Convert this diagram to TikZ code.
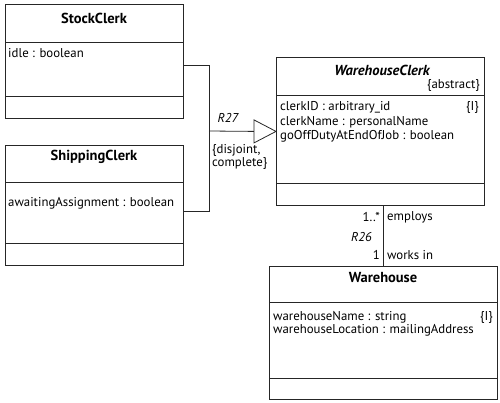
\documentclass[tikz,border=0pt]{standalone}
\usepackage{fontspec}
\setmainfont{PT Sans}
\usetikzlibrary{calc}
\tikzset{
  classbox/.style={draw=black!85, line width=0.8pt, anchor=north west, inner sep=0pt},
  sepline/.style={draw=black!85, line width=0.8pt},
  conn/.style={draw=black!85, line width=0.8pt},
  ttl/.style={font=\fontsize{14.5}{16}\selectfont\bfseries, inner sep=0pt},
  txt/.style={font=\fontsize{12.8}{14}\selectfont, inner sep=0pt},
}
\begin{document}
\begin{tikzpicture}[x=1pt,y=-1pt]
\useasboundingbox (0,0) rectangle (500,402);
% StockClerk
\node[classbox, minimum width=178pt, minimum height=114pt] (sc) at (5,4) {};
\draw[sepline] (5,42) -- (183,42);
\draw[sepline] (5,96) -- (183,96);
\node[ttl] (sct) at (94,18) {StockClerk};
\node[txt, anchor=west] (sca) at (8,53) {idle : boolean};
% ShippingClerk
\node[classbox, minimum width=178pt, minimum height=120pt] (shc) at (5,145) {};
\draw[sepline] (5,182) -- (183,182);
\draw[sepline] (5,243) -- (183,243);
\node[ttl] (shct) at (94,157) {ShippingClerk};
\node[txt, anchor=west] (shca) at (8,203) {awaitingAssignment : boolean};
% WarehouseClerk
\node[classbox, minimum width=208pt, minimum height=148pt] (wc) at (276,57) {};
\draw[sepline] (276,95) -- (484,95);
\draw[sepline] (276,183) -- (484,183);
\node[ttl, font=\fontsize{14.5}{16}\selectfont\bfseries\itshape] (wct) at (382,70) {WarehouseClerk};
\node[txt, anchor=east] (wcab) at (480,85) {\{abstract\}};
\node[txt, anchor=west] (wca1) at (280,107) {clerkID : arbitrary\_id};
\node[txt, anchor=east] (wci) at (479,107) {\{I\}};
\node[txt, anchor=west] (wca2) at (280,122) {clerkName : personalName};
\node[txt, anchor=west] (wca3) at (280,136) {goOffDutyAtEndOfJob : boolean};
% Warehouse
\node[classbox, minimum width=228pt, minimum height=133pt] (wh) at (269,266) {};
\draw[sepline] (269,302) -- (497,302);
\draw[sepline] (269,378) -- (497,378);
\node[ttl] (wht) at (383,278) {Warehouse};
\node[txt, anchor=west] (wha1) at (273,317) {warehouseName : string};
\node[txt, anchor=east] (whi) at (493,317) {\{I\}};
\node[txt, anchor=west] (wha2) at (273,330) {warehouseLocation : mailingAddress};
% R27 generalization
\coordinate (scA) at ($(sc.north east)+(0,61)$);
\coordinate (shA) at ($(shc.north east)+(0,66)$);
\coordinate (jt) at (209,65);
\coordinate (jb) at (209,211);
\coordinate (jm) at (209,131);
\coordinate (tb) at ($(wc.west)+(-22,0)$);
\draw[conn] (scA) -- (jt) -- (jb) -- (shA);
\draw[conn] (jm) -- (tb);
\draw[conn, fill=white] (wc.west) -- ++(-22,-11.5) -- ++(0,23) -- cycle;
\node[txt, font=\fontsize{12.8}{14}\selectfont\itshape] (r27) at (228,118) {R27};
\node[txt, anchor=west] (dj1) at (212,150) {\{disjoint,};
\node[txt, anchor=west] (dj2) at (212,163) {complete\}};
% R26 association
\draw[conn] (wh.north) -- (wh.north |- wc.south);
\node[txt, anchor=east] (m1) at (380,217) {1..*};
\node[txt, anchor=west] (p1) at (387,217) {employs};
\node[txt, anchor=east, font=\fontsize{12.8}{14}\selectfont\itshape] (r26) at (372,237) {R26};
\node[txt, anchor=east] (m2) at (380,255) {1};
\node[txt, anchor=west] (p2) at (387,255) {works in};
\end{tikzpicture}
\end{document}
